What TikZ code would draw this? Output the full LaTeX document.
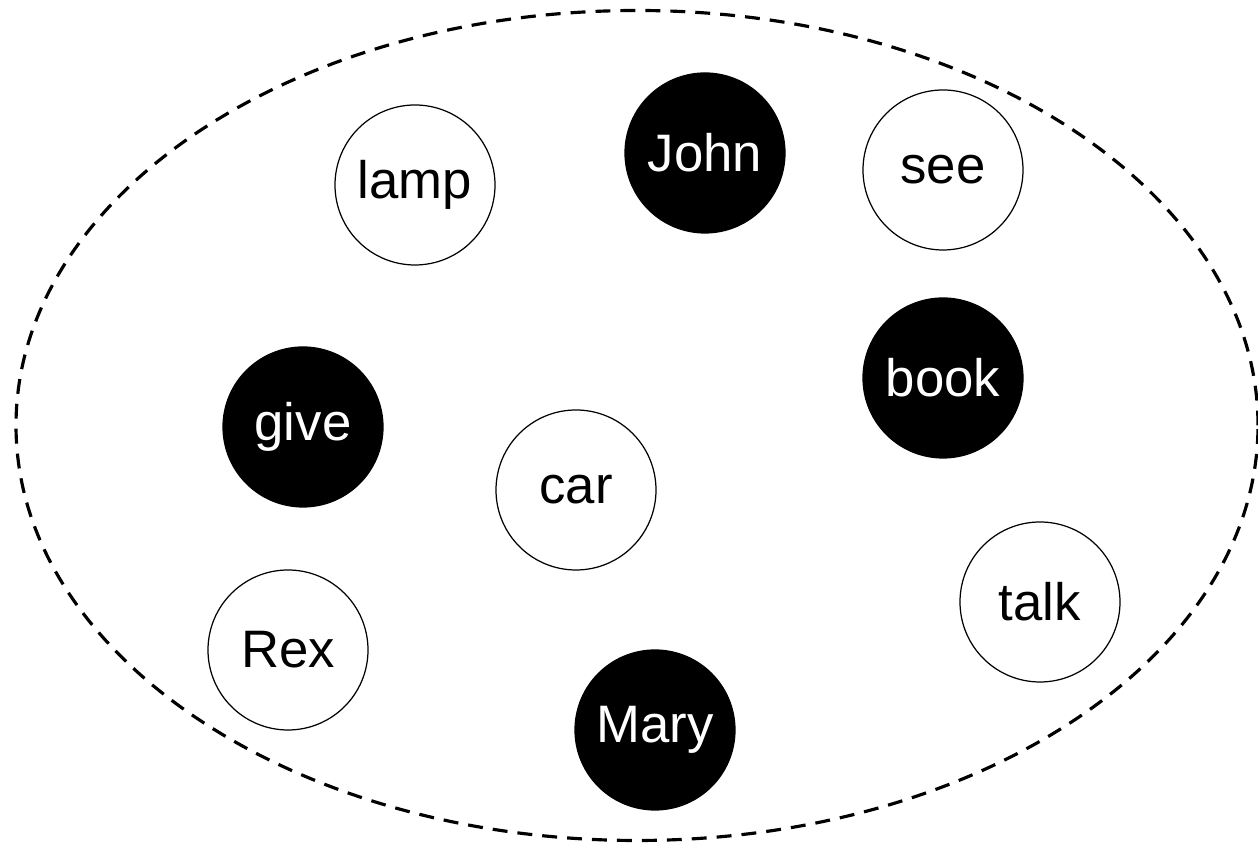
\documentclass[tikz,border=0pt]{standalone}
\usepackage{fontspec}
\setmainfont{Liberation Sans}
\tikzset{
  word/.style={circle,draw=black,line width=0.7pt,minimum size=3.2cm,inner sep=0pt,
    font=\fontsize{30}{36}\selectfont},
  wordon/.style={word,fill=black,text=white},
  wordoff/.style={word,fill=white,text=black},
}
\begin{document}
\begin{tikzpicture}[line cap=butt,line join=round,x=1.0cm,y=1.0cm]
  \useasboundingbox (0,0) rectangle (25.16,16.9);
  % the set around all words
  \draw[line width=1.8pt,dash pattern=on 8.5pt off 5.7pt] (12.74,8.39) ellipse (12.42cm and 8.3cm);
  % top row
  \node[wordoff] (lamp) at (8.3,13.2) {lamp};
  \node[wordon] (john) at (14.1,13.84) {John};
  \node[wordoff] (see) at (18.86,13.5) {see};
  % middle
  \node[wordon] (book) at (18.86,9.34) {book};
  \node[wordon] (give) at (6.06,8.36) {give};
  \node[wordoff] (car) at (11.52,7.1) {car};
  % bottom row
  \node[wordoff] (talk) at (20.8,4.86) {talk};
  \node[wordoff] (rex) at (5.76,3.9) {Rex};
  \node[wordon] (mary) at (13.1,2.3) {Mary};
\end{tikzpicture}
\end{document}
